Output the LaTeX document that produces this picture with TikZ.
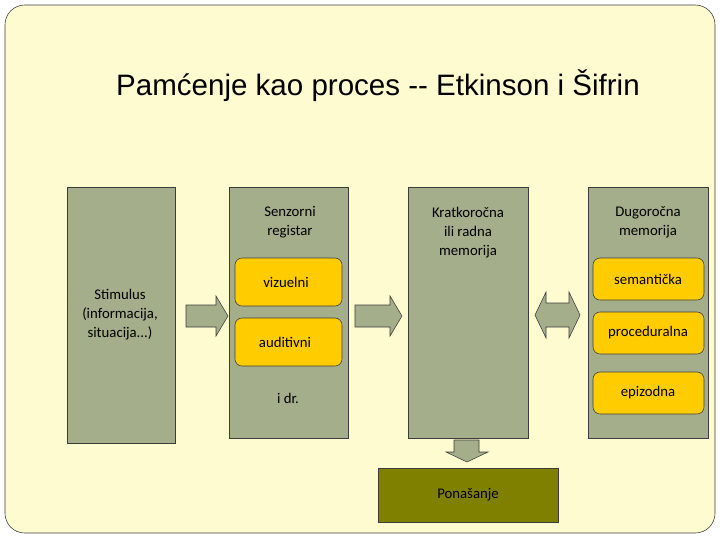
\documentclass[tikz,border=0pt]{standalone}
\usepackage{fontspec}
\setmainfont{Carlito}
\newfontfamily\titlefont{Liberation Sans}
\definecolor{paper}{RGB}{255,251,208}
\definecolor{boxgreen}{RGB}{164,174,138}
\definecolor{boxyellow}{RGB}{255,204,0}
\definecolor{olive}{RGB}{128,128,0}
\definecolor{edge}{RGB}{60,60,60}
\begin{document}
\begin{tikzpicture}[x=0.025cm,y=-0.025cm,
    store/.style={draw=edge,fill=boxgreen},
    kind/.style={draw=edge,fill=boxyellow,rounded corners=5pt},
    txt/.style={align=center,font=\fontsize{10.5}{13.5}\selectfont},
    blockarrow/.style={draw=edge,fill=boxgreen}]
        \useasboundingbox (0,0) rectangle (720,540);
        % background slide
        \draw[draw=edge,fill=paper,rounded corners=14pt] (5,5) rectangle (715,533);
        \node (title) at (378,86) {\titlefont\fontsize{21}{25}\selectfont Pamćenje kao proces -- Etkinson i Šifrin};

        % memory stores
        \draw[store] (67,187) rectangle (175,443);
        \node[txt] (stimulus) at (120,315) {Stimulus\\(informacija,\\situacija...)};
        \draw[store] (229,187) rectangle (348,438);
        \node[txt] (senzorni) at (290,222) {Senzorni\\registar};
        \draw[store] (408,187) rectangle (528,438);
        \node[txt] (kratko) at (468,233) {Kratkoročna\\ili radna\\memorija};
        \draw[store] (588,187) rectangle (708,438);
        \node[txt] (dugo) at (648,222) {Dugoročna\\memorija};

        % kinds
        \draw[kind] (235,258) rectangle (342,306);
        \node[txt] (vizuelni) at (286,282) {vizuelni};
        \draw[kind] (235,318) rectangle (342,366);
        \node[txt] (auditivni) at (285,342) {auditivni};
        \node[txt] (idr) at (288,398) {i dr.};
        \draw[kind] (593,258) rectangle (704,300);
        \node[txt] (semanticka) at (648,279) {semantička};
        \draw[kind] (593,312) rectangle (704,354);
        \node[txt] (proceduralna) at (648,333) {proceduralna};
        \draw[kind] (593,372) rectangle (704,414);
        \node[txt] (epizodna) at (648,393) {epizodna};

        % behaviour
        \draw[draw=edge,fill=olive] (378,468) rectangle (558,522);
        \node[txt] (ponasanje) at (468,495) {Ponašanje};

        % arrows
        \draw[blockarrow] (186,305) -- (216,305) -- (216,296) -- (228,316) -- (216,336) -- (216,327) -- (186,327) -- cycle;
        \draw[blockarrow] (355,305) -- (390,305) -- (390,296) -- (402,316) -- (390,336) -- (390,327) -- (355,327) -- cycle;
        \draw[blockarrow] (535,315) -- (546,292) -- (546,303) -- (569,303) -- (569,292) -- (580,315)
            -- (569,338) -- (569,327) -- (546,327) -- (546,338) -- cycle;
        \draw[blockarrow] (454,440) -- (479,440) -- (479,452) -- (488,452) -- (467,462) -- (446,452) -- (454,452) -- cycle;
\end{tikzpicture}
\end{document}
